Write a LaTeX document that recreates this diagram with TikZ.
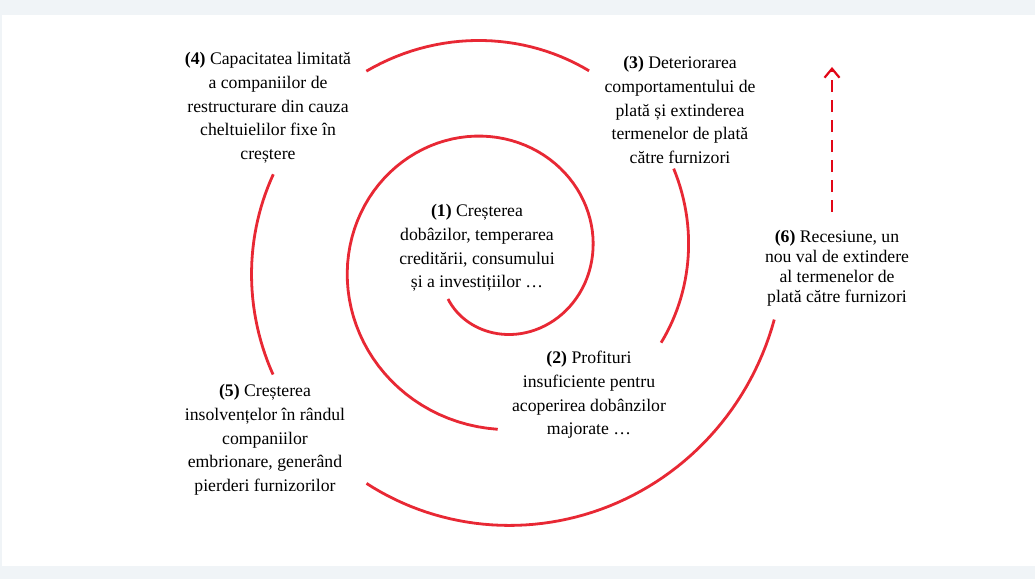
\documentclass[tikz,border=0pt]{standalone}
\usepackage{fontspec}
\setmainfont{Liberation Serif}
\usetikzlibrary{arrows.meta}

\definecolor{pagegray}{RGB}{240,244,247}
\definecolor{spiralred}{RGB}{232,40,52}
\definecolor{arrowred}{RGB}{226,6,22}

\tikzset{
	spiral/.style={spiralred, line width=2.8pt},
	stage/.style={align=center, font=\fontsize{17.7}{23.7}\selectfont},
	upward/.style={arrowred, line width=2.4pt, dash pattern=on 12pt off 8pt, -{Straight Barb[length=9pt, width=15pt, line width=2.2pt]}}
}

\begin{document}
\begin{tikzpicture}[x=1pt, y=1pt]
	\fill[pagegray] (0, 0) rectangle (1035, 579);
	\fill[white] (2, 13) rectangle (1035, 564);

	% spiral r = 98 + 96 t / 360 around (494, 320)
	\draw[spiral] plot[domain=-139:271.25, samples=120, variable=\t] ({494 + (98 + 0.266667*\t)*cos(\t)}, {320 + (98 + 0.266667*\t)*sin(\t)});
	\draw[spiral] plot[domain=333.4:386.7, samples=30, variable=\t] ({494 + (98 + 0.266667*\t)*cos(\t)}, {320 + (98 + 0.266667*\t)*sin(\t)});
	\draw[spiral] plot[domain=423.2:484.2, samples=30, variable=\t] ({494 + (98 + 0.266667*\t)*cos(\t)}, {320 + (98 + 0.266667*\t)*sin(\t)});
	\draw[spiral] plot[domain=519:567.6, samples=30, variable=\t] ({494 + (98 + 0.266667*\t)*cos(\t)}, {320 + (98 + 0.266667*\t)*sin(\t)});
	\draw[spiral] plot[domain=600.4:707.8, samples=60, variable=\t] ({494 + (98 + 0.266667*\t)*cos(\t)}, {320 + (98 + 0.266667*\t)*sin(\t)});

	\node[stage] (s1) at (477, 331) {\textbf{(1)} Creșterea\\dobâzilor, temperarea\\creditării, consumului\\și a investițiilor …};
	\node[stage] (s2) at (589, 184) {\textbf{(2)} Profituri\\insuficiente pentru\\acoperirea dobânzilor\\majorate …};
	\node[stage] (s3) at (680, 469) {\textbf{(3)} Deteriorarea\\comportamentului de\\plată și extinderea\\termenelor de plată\\către furnizori};
	\node[stage] (s4) at (268, 471) {\textbf{(4)} Capacitatea limitată\\a companiilor de\\restructurare din cauza\\cheltuielilor fixe în\\creștere};
	\node[stage] (s5) at (265, 139) {\textbf{(5)} Creșterea\\insolvențelor în rândul\\companiilor\\embrionare, generând\\pierderi furnizorilor};
	\node[stage, font=\fontsize{17.7}{20}\selectfont] (s6) at (837, 311) {\textbf{(6)} Recesiune, un\\nou val de extindere\\al termenelor de\\plată către furnizori};

	\coordinate (tail) at (832, 367);
	\coordinate (tip) at (832, 512);
	\draw[upward] (tail) -- (tip);
\end{tikzpicture}
\end{document}
